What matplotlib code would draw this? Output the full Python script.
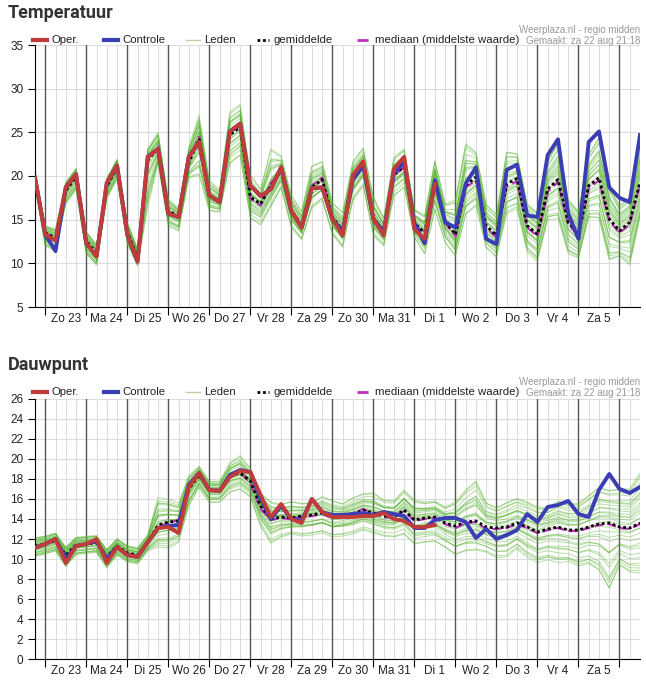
import numpy as np
import matplotlib
matplotlib.use("Agg")
import matplotlib.pyplot as plt
from matplotlib.lines import Line2D

plt.rcParams['font.family'] = ['Liberation Sans', 'DejaVu Sans']

days = ["Zo 23","Ma 24","Di 25","Wo 26","Do 27","Vr 28","Za 29","Zo 30","Ma 31","Di 1","Wo 2","Do 3","Vr 4","Za 5"]

t_oper = [19.8,13.3,12.6,18.7,20.2,12.3,10.8,19.2,21.2,13.3,10.2,22.2,23.1,15.7,15.3,22.2,23.9,17.8,17.0,25.1,
          26.0,18.9,17.7,18.5,21.0,16.0,14.1,18.6,18.7,15.1,13.2,20.1,21.7,15.1,13.2,20.8,22.2,13.9,12.8,19.1]
t_ctrl = [19.8,13.3,11.4,18.7,20.2,12.3,10.8,19.2,21.2,13.3,10.2,22.2,23.1,15.7,15.3,22.2,23.9,17.8,17.0,25.1,
          26.0,18.9,17.7,18.5,21.0,16.0,14.1,18.6,18.7,15.1,13.6,19.6,21.2,15.1,13.6,20.3,21.6,14.6,12.3,19.5,
          14.7,14.1,19.1,21.0,12.8,12.2,20.7,21.3,15.5,15.3,22.4,24.2,15.7,12.8,23.9,25.1,18.7,17.5,17.0,24.7]
t_mean = [19.8,13.5,12.9,18.3,19.9,12.5,11.2,18.8,21.0,13.6,10.6,21.8,23.2,16.0,15.4,21.5,24.3,17.7,17.1,24.7,
          25.6,17.6,16.8,18.9,20.6,16.1,14.3,18.7,19.6,15.3,13.8,19.6,21.2,15.2,13.6,20.1,21.1,14.6,13.5,19.4,
          14.8,13.3,18.9,19.9,14.3,13.2,19.1,19.7,14.3,13.3,18.5,19.6,14.7,13.3,18.9,19.8,15.1,13.7,14.7,19.3]
t_med = [19.8,13.5,12.8,18.4,20.0,12.4,11.1,18.9,21.1,13.5,10.5,21.9,23.4,15.9,15.3,21.7,24.5,17.5,17.0,24.9,
         25.8,17.4,16.6,19.1,20.8,16.0,14.2,18.9,19.8,15.2,13.6,19.8,21.0,15.0,13.4,20.0,21.0,14.5,13.3,19.2,
         14.6,13.1,18.7,19.5,14.1,13.0,18.8,19.4,14.1,13.1,18.2,19.3,14.5,13.1,18.6,19.5,14.9,13.5,14.5,19.0]
t_hi = [0.8,0.8,1,1,1,1.2,1,1,1,1.2,1.2, 1.5,2,1.5,1,2,3,2,1.5,3,3, 3,2,5,2,2,2,3,2.5,2,2.5,
        2.5,2.5,3,2,2.5,2.5,2,2.5,3,2.5, 5,6,3.5,3,3,4.5,3.5,3,3,4, 5,3,3,4,5,4,3,3,4.5]
t_lo = [1,1.5,1.5,1.5,1.5,1.5,1.5,1.5,1.5,1.5,1, 6,2,2,2,2,5,2,1.5,4,4, 3,3,3,2.5,2.5,2,3,3,2.5,2.5,
        3,3,2.5,2,3,3,2,3,4,3, 3,4,4,3,3,4,4,3.5,3.5,4, 5,4,3,4,5,5,3,5,4]

d_oper = [11.1,11.5,12.0,9.6,11.3,11.5,12.0,9.6,11.2,10.4,10.2,11.7,13.1,13.2,12.6,17.2,18.6,16.9,16.8,18.2,
          18.8,18.7,16.4,14.2,15.5,14.0,13.6,16.0,14.7,14.2,14.2,14.2,14.3,14.3,14.6,14.0,13.8,13.2,13.2,13.4]
d_ctrl = [11.1,11.5,12.0,10.0,11.3,11.5,11.8,10.0,11.2,10.4,10.2,11.7,13.1,13.3,13.4,17.4,18.6,16.9,16.8,18.4,
          18.9,18.7,16.0,14.0,15.3,14.0,13.8,16.0,14.7,14.4,14.4,14.5,14.6,14.4,14.7,14.5,14.3,13.1,13.1,13.9,
          14.1,14.1,13.7,12.1,13.0,12.0,12.4,12.9,14.5,13.7,15.2,15.4,15.8,14.5,14.2,16.9,18.5,17.0,16.6,17.2]
d_mean = [11.3,11.5,11.8,10.4,11.4,11.5,11.6,10.2,11.3,10.6,10.4,11.7,13.4,13.7,13.8,17.0,18.4,16.9,16.9,18.3,
          18.6,17.8,15.3,14.0,14.2,14.1,14.3,14.4,14.6,14.2,14.3,14.5,14.9,14.6,14.3,14.2,14.9,13.9,14.1,14.2,
          13.6,13.3,13.7,13.8,13.2,13.1,13.2,13.6,13.2,12.7,13.0,13.2,12.9,12.9,13.2,13.5,13.6,13.2,13.1,13.6]
d_med = [11.2,11.5,11.9,10.2,11.3,11.5,11.7,10.0,11.2,10.5,10.3,11.6,13.2,13.6,13.9,17.1,18.5,16.8,16.8,18.4,
         18.7,17.6,15.0,13.9,14.1,14.0,14.2,14.3,14.5,14.1,14.3,14.6,15.0,14.5,14.2,14.1,14.8,13.8,14.0,14.1,
         13.5,13.1,13.6,13.7,13.0,13.0,13.1,13.5,13.1,12.6,12.9,13.1,12.8,12.8,13.1,13.4,13.5,13.1,13.0,13.5]
d_hi = [0.8]*12 + [3,2.5,2, 1.5,1,1,1,1.5,2,1.5,
        1.5,2,1.5,2,1.5,1.5,2,2,1.5,2,2,2.5,2,2,
        2.5,2.5,2,2,2,3,4,5,3,2.5,3,3,3,3,2.5,3,3,3,3.5,4,3.5,4,4,5]
d_lo = [1,1,1,1.2,1,1,1,1.2,1,1,1,1, 2.5,3,2.5, 2,1.5,1.5,1.5,2,2,2,
        2.5,3,2.5,2,2.5,2.5,2.5,2.5,2.5,2.5,2.5,2.5,2.5,2.5,
        3,3,3,3,3,3.5,3.5,3.5,3,3.5,3.5,3,3.5,3.5,3.5,4,3.5,4,4,5,7,4,4.5,5]

# member position inside envelope: (start fraction, end fraction)
member_frac = [(-1,0.3),(1,-0.5),(-0.6,0.9),(0.4,-1),(0.8,0.8),(-0.8,-0.8),(0.2,0.6),(-0.3,-0.2),(0.6,-0.7),
               (-0.9,0.5),(0.9,0.1),(-0.4,1),(0.1,-0.9),(0.5,0.4),(-0.2,-0.6),(0.7,-0.1),(-0.7,0.7),(0.3,0.95),
               (-0.5,-0.95),(0.0,0.2),(1,0.6),(-1,-0.4),(0.45,-0.3),(-0.15,0.55),(0.65,-0.85),(-0.85,0.1),
               (0.25,-0.45),(-0.35,0.35),(0.85,0.25),(-0.65,-0.1)]

C_OPER = "#c13b3b"; C_CTRL = "#3a3db3"; C_MEM = "#4caf22"; C_MED = "#c02fc0"

fig = plt.figure(figsize=(6.46, 6.81), dpi=100)
W, H = 646, 681

def panel(rect, title, ylim, yticks, oper, ctrl, mean, med, hi, lo, title_y, leg_y, info_y):
    ax = fig.add_axes(rect)
    n = len(ctrl)
    x = np.arange(n)
    m = np.array(mean); h = np.array(hi); l = np.array(lo)
    for a, b in member_frac:
        f = np.linspace(a, b, n)
        y = np.where(f > 0, m + f * h, m + f * l)
        ax.plot(x, y, color=C_MEM, lw=0.7, alpha=0.4, zorder=2)
    ax.plot(x, med, color=C_MED, lw=1.6, ls=(0, (4, 2)), zorder=4)
    ax.plot(x, mean, color="black", lw=2, ls=(0, (1, 1)), zorder=5)
    ax.plot(x, ctrl, color=C_CTRL, lw=2.8, zorder=6)
    ax.plot(np.arange(len(oper)), oper, color=C_OPER, lw=2.8, zorder=7)
    ax.set_xlim(0, n - 1)
    ax.set_ylim(*ylim)
    ax.set_yticks(yticks)
    for v in yticks:
        ax.axhline(v, color="#dddddd", lw=0.8, zorder=0)
    for i in range(n):
        if (i - 1) % 4 == 0:
            ax.axvline(i, color="#555555", lw=1, zorder=1)
        else:
            ax.axvline(i, color="#dddddd", lw=0.8, zorder=0)
    ax.set_xticks([1 + 4 * k for k in range(15)])
    ax.set_xticklabels([])
    ax.set_xticks([3 + 4 * k for k in range(len(days))], minor=True)
    ax.set_xticklabels(days, minor=True, fontsize=8.5, color="#222222")
    ax.tick_params(axis="x", which="major", length=6, color="black")
    ax.tick_params(axis="x", which="minor", length=0, pad=4)
    ax.tick_params(axis="y", labelsize=8.5, length=5, labelcolor="#222222")
    for s in ["top", "right"]:
        ax.spines[s].set_visible(False)
    fig.text(8 / W, 1 - title_y / H, title, fontsize=13, fontweight="bold", color="#333333",
             va="center", family=["Roboto", "DejaVu Sans"])
    yl = 1 - leg_y / H
    items = [("Oper.", dict(color=C_OPER, lw=3)), ("Controle", dict(color=C_CTRL, lw=3)),
             ("Leden", dict(color="#b9d3a8", lw=1)), ("gemiddelde", dict(color="black", lw=2, ls=(0, (1, 1)))),
             ("mediaan (middelste waarde)", dict(color=C_MED, lw=2, ls=(0, (4, 2))))]
    xs = [33, 104, 186, 257, 357]
    lens = [14, 14, 14, 12, 14]
    for (lab, kw), x0, ln in zip(items, xs, lens):
        fig.add_artist(Line2D([x0 / W, (x0 + ln) / W], [yl, yl], **kw))
        fig.text((x0 + ln + 4) / W, yl, lab, fontsize=8.2, va="center", color="#222222")
    fig.text(640 / W, 1 - info_y / H, "Weerplaza.nl - regio midden", fontsize=7, color="#999999", ha="right", va="center")
    fig.text(640 / W, 1 - (info_y + 11) / H, "Gemaakt: za 22 aug 21:18", fontsize=7, color="#999999", ha="right", va="center")
    return ax

panel([35 / W, 1 - 307 / H, 605 / W, 262 / H], "Temperatuur", (5, 35), list(range(5, 36, 5)),
      t_oper, t_ctrl, t_mean, t_med, t_hi, t_lo, 13, 40, 30)
panel([35 / W, 1 - 659 / H, 605 / W, 260 / H], "Dauwpunt", (0, 26), list(range(0, 27, 2)),
      d_oper, d_ctrl, d_mean, d_med, d_hi, d_lo, 365, 392, 382)

fig.savefig("out.png", dpi=100)
